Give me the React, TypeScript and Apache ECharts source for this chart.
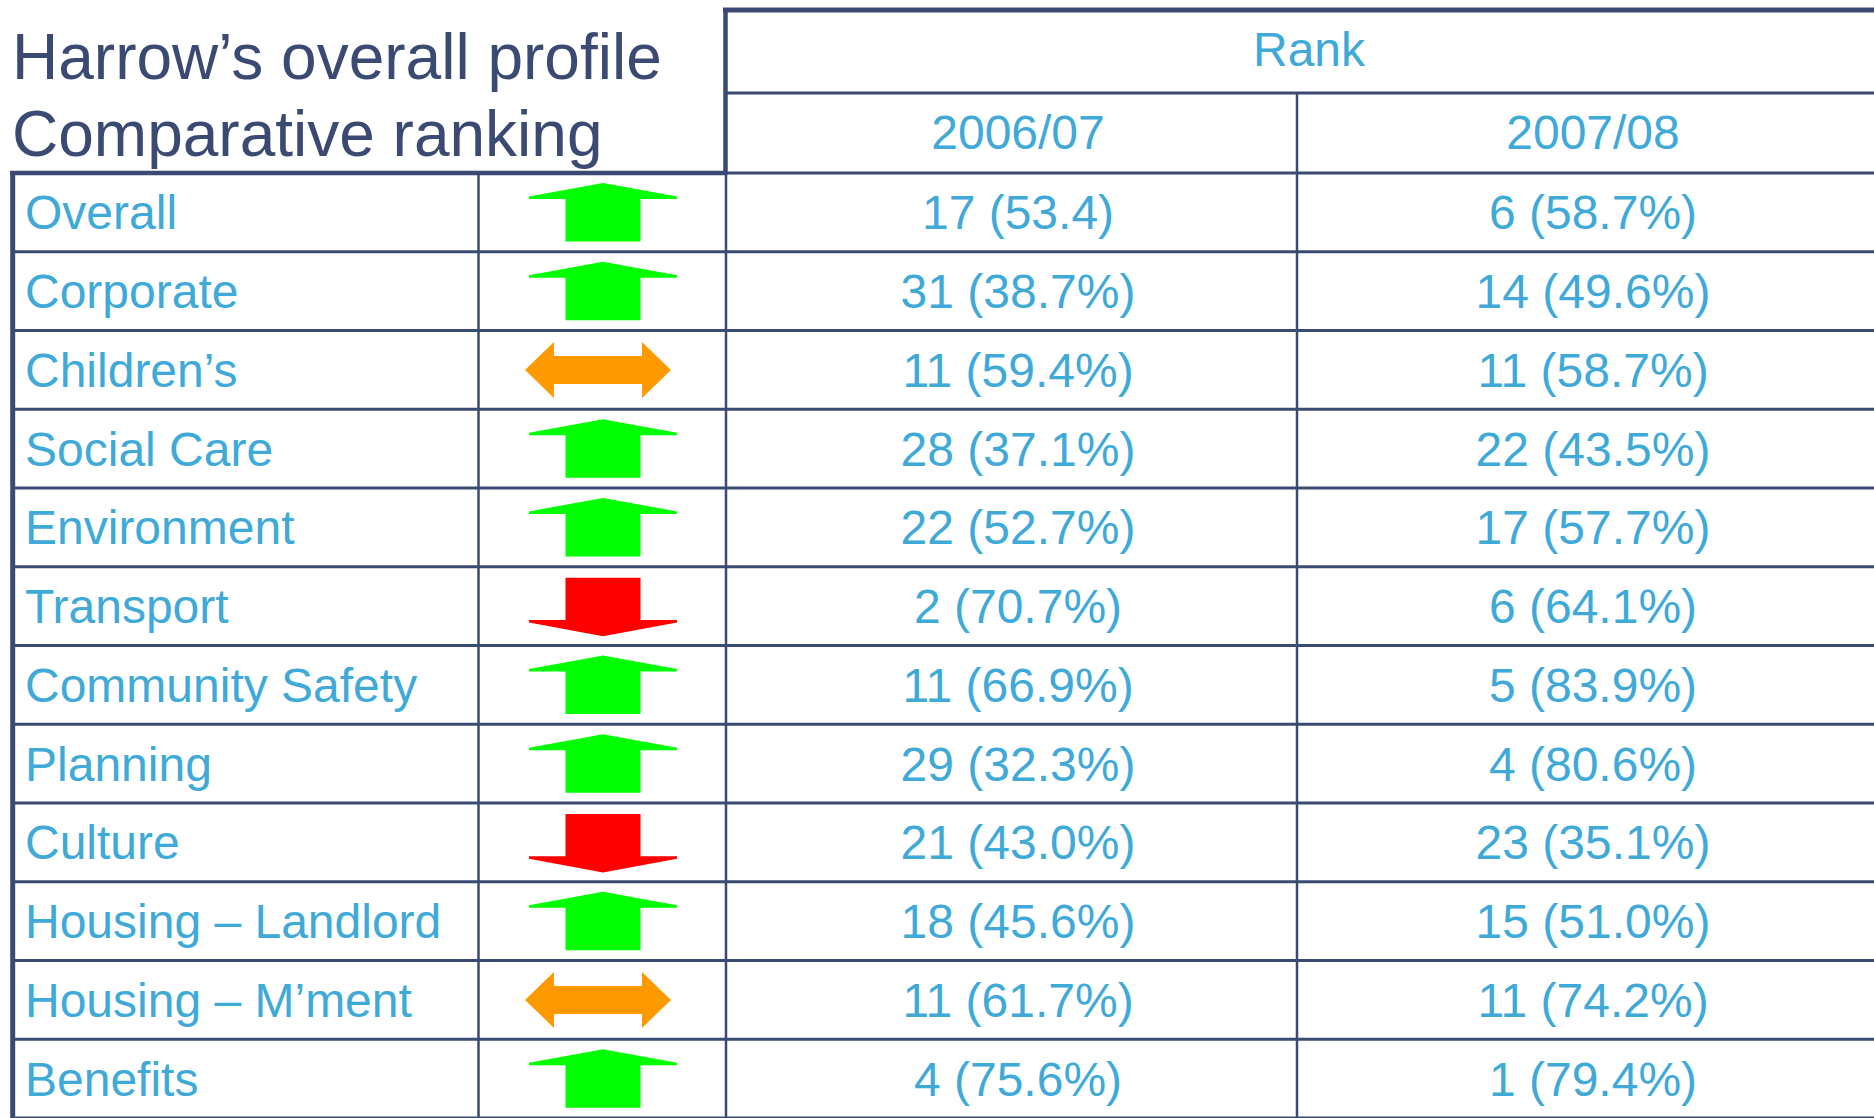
import React, { useEffect, useRef } from "react";
import * as echarts from "echarts";

// ---- data ----
const titleLines = ["Harrow’s overall profile", "Comparative ranking"];
const groupHeader = "Rank";
const periods = ["2006/07", "2007/08"];
const categories = [
  "Overall",
  "Corporate",
  "Children’s",
  "Social Care",
  "Environment",
  "Transport",
  "Community Safety",
  "Planning",
  "Culture",
  "Housing – Landlord",
  "Housing – M’ment",
  "Benefits",
];
const rank0607 = [17, 31, 11, 28, 22, 2, 11, 29, 21, 18, 11, 4];
const score0607 = ["53.4", "38.7%", "59.4%", "37.1%", "52.7%", "70.7%", "66.9%", "32.3%", "43.0%", "45.6%", "61.7%", "75.6%"];
const rank0708 = [6, 14, 11, 22, 17, 6, 5, 4, 23, 15, 11, 1];
const score0708 = ["58.7%", "49.6%", "58.7%", "43.5%", "57.7%", "64.1%", "83.9%", "80.6%", "35.1%", "51.0%", "74.2%", "79.4%"];

// ---- style / layout ----
const W = 1874;
const H = 1118;
const NAVY = "#3b4a72";
const BLUE = "#3fa9d8";
const GREEN = "#00ff00";
const RED = "#ff0000";
const ORANGE = "#ff9900";
const FAMILY = 'Arial, "Liberation Sans", Helvetica, sans-serif';
const BODY_FONT = `48px ${FAMILY}`;
const TITLE_FONT = `64px ${FAMILY}`;

const HEADER_TOP = 10;
const HEADER_MID = 93;
const BODY_TOP = 173;
const ROW_H = 79.05;
const X_LEFT = 12.7;
const X_TREND = 478.5;
const X_RANK = 726;
const X_SPLIT = 1297;
const X_LABEL = 25;
const X_ARROW = 603;
const X_ARROW_SAME = 598;
const X_COL1 = 1018;
const X_COL2 = 1593;

function txt(text: string, x: number, y: number, font: string, fill: string, align: string) {
  return {
    type: "text",
    silent: true,
    style: {
      text,
      x,
      y,
      font,
      fill,
      textAlign: align,
      align,
      textVerticalAlign: "middle",
      verticalAlign: "middle",
    },
  };
}

function ln(x1: number, y1: number, x2: number, y2: number, w: number) {
  return {
    type: "line",
    silent: true,
    shape: { x1, y1, x2, y2 },
    style: { stroke: NAVY, lineWidth: w },
  };
}

function arrowPoints(kind: string, cx: number, cy: number): number[][] {
  const hw = 74;
  const sw = 37.5;
  if (kind === "up") {
    const top = cy - 29.5;
    const base = top + 15;
    const bottom = cy + 29;
    return [
      [cx, top],
      [cx + hw, base - 1.5],
      [cx + hw, base + 1],
      [cx + sw, base + 1],
      [cx + sw, bottom],
      [cx - sw, bottom],
      [cx - sw, base + 1],
      [cx - hw, base + 1],
      [cx - hw, base - 1.5],
    ];
  }
  if (kind === "down") {
    const top = cy - 28.5;
    const base = top + 43.4;
    const bottom = cy + 30;
    return [
      [cx - sw, top],
      [cx + sw, top],
      [cx + sw, base - 1],
      [cx + hw, base - 1],
      [cx + hw, base + 1.5],
      [cx, bottom],
      [cx - hw, base + 1.5],
      [cx - hw, base - 1],
      [cx - sw, base - 1],
    ];
  }
  const w = 73;
  const hl = 29;
  const hh = 28;
  const sh = 14;
  return [
    [cx - w, cy],
    [cx - w + hl, cy - hh],
    [cx - w + hl, cy - sh],
    [cx + w - hl, cy - sh],
    [cx + w - hl, cy - hh],
    [cx + w, cy],
    [cx + w - hl, cy + hh],
    [cx + w - hl, cy + sh],
    [cx - w + hl, cy + sh],
    [cx - w + hl, cy + hh],
  ];
}

export default function App() {
  const ref = useRef<HTMLDivElement>(null);

  useEffect(() => {
    document.body.style.margin = "0";
    if (!ref.current) return;
    const chart = echarts.init(ref.current, undefined, { renderer: "svg" });

    const graphics: any[] = [
      txt(titleLines[0], 12, 57, TITLE_FONT, NAVY, "left"),
      txt(titleLines[1], 12, 134, TITLE_FONT, NAVY, "left"),
      txt(groupHeader, 1309, 49, BODY_FONT, BLUE, "center"),
      txt(periods[0], 1018, 132.5, BODY_FONT, BLUE, "center"),
      txt(periods[1], X_COL2, 132.5, BODY_FONT, BLUE, "center"),
      ln(723, HEADER_TOP, W, HEADER_TOP, 5),
      ln(725.5, HEADER_TOP - 2, 725.5, BODY_TOP + 2, 4.5),
      ln(725, HEADER_MID, W, HEADER_MID, 3),
      ln(X_SPLIT, HEADER_MID, X_SPLIT, H, 2.5),
      ln(X_LEFT - 2.5, BODY_TOP, 727, BODY_TOP, 4.5),
      ln(725, BODY_TOP, W, BODY_TOP, 3),
      ln(X_LEFT, BODY_TOP - 2, X_LEFT, H, 5),
      ln(X_TREND, BODY_TOP, X_TREND, H, 2.5),
      ln(X_RANK, BODY_TOP, X_RANK, H, 2.5),
    ];

    const option: any = {
      animation: false,
      backgroundColor: "#ffffff",
      grid: { left: 0, right: 0, top: BODY_TOP, height: ROW_H * categories.length },
      xAxis: { type: "value", min: 0, max: W, show: false },
      yAxis: { type: "category", data: categories, inverse: true, show: false },
      graphic: graphics,
      series: [
        {
          type: "custom",
          silent: true,
          data: categories.map((_, i) => [0, i]),
          encode: { x: 0, y: 1 },
          renderItem: (params: any, api: any) => {
            const i = params.dataIndex;
            const cy = api.coord([0, i])[1];
            const bh = api.size([0, 1])[1];
            const bottom = cy + bh / 2;
            const ty = cy + 0.5;
            const r0 = rank0607[i];
            const r1 = rank0708[i];
            const kind = r1 < r0 ? "up" : r1 > r0 ? "down" : "same";
            const color = kind === "up" ? GREEN : kind === "down" ? RED : ORANGE;
            const xl = api.coord([X_LABEL, i])[0];
            const xa = api.coord([kind === "same" ? X_ARROW_SAME : X_ARROW, i])[0];
            const x1 = api.coord([X_COL1, i])[0];
            const x2 = api.coord([X_COL2, i])[0];
            const xs = api.coord([X_LEFT, i])[0];
            return {
              type: "group",
              children: [
                ln(xs, bottom, W, bottom, 2.8),
                txt(categories[i], xl, ty, BODY_FONT, BLUE, "left"),
                {
                  type: "polygon",
                  shape: { points: arrowPoints(kind, xa, cy) },
                  style: { fill: color },
                },
                txt(`${r0} (${score0607[i]})`, x1, ty, BODY_FONT, BLUE, "center"),
                txt(`${r1} (${score0708[i]})`, x2, ty, BODY_FONT, BLUE, "center"),
              ],
            };
          },
        },
      ],
    };

    chart.setOption(option);
    return () => chart.dispose();
  }, []);

  return (
    <div
      ref={ref}
      style={{ position: "fixed", left: 0, top: 0, width: W, height: H, background: "#fff" }}
    />
  );
}
